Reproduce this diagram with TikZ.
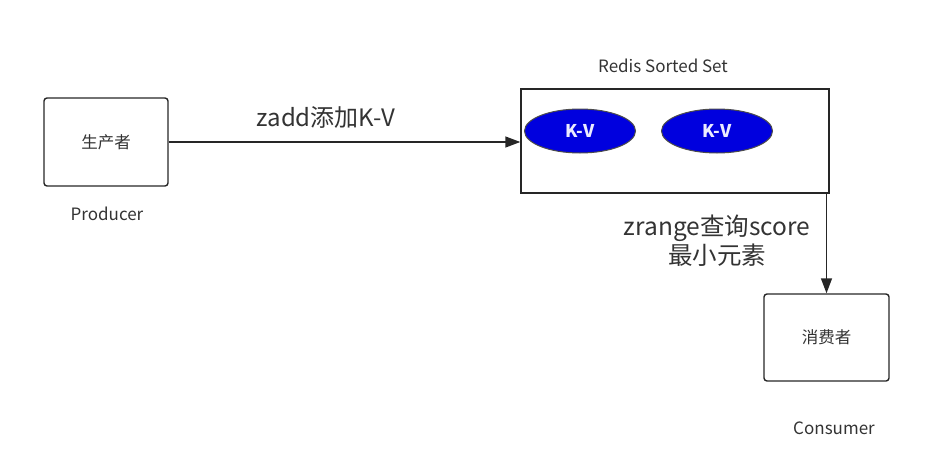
\documentclass[tikz,border=0pt]{standalone}
\usepackage{fontspec}
\setmainfont{Noto Sans CJK SC}
\usetikzlibrary{shapes.geometric, arrows.meta}
\definecolor{kvblue}{RGB}{0,0,222}
\definecolor{ink}{RGB}{51,51,51}
\begin{document}
\begin{tikzpicture}[x=1pt, y=-1pt]
	\tikzstyle{box} = [draw=black!85, line width=1.4pt, rounded corners=3pt, minimum width=124pt, minimum height=88pt, text=ink, font=\fontsize{16.5}{19}\selectfont]
	\tikzstyle{kv} = [ellipse, draw=black!70, line width=1pt, fill=kvblue, minimum width=111pt, minimum height=44pt, text=white!92!blue, font=\bfseries\fontsize{17.5}{20}\selectfont]
	\tikzstyle{caption} = [text=ink, font=\fontsize{17}{20}\selectfont]
	\tikzstyle{msg} = [text=ink, font=\fontsize{24}{28}\selectfont, align=center]
	\tikzstyle{flow} = [draw=black!85, line width=1.4pt, -{Triangle[length=15pt, width=11pt]}]
	\useasboundingbox (0,0) rectangle (950,471);
	\node[box] (prod) at (106, 142) {生产者};
	\node[caption] (prodname) at (107, 214) {Producer};
	\node[box, rounded corners=0pt, minimum width=308pt, minimum height=104pt] (redis) at (675, 141) {};
	\node[caption] (redisname) at (663, 66) {Redis Sorted Set};
	\node[kv] (kv1) at (580, 131) {K-V};
	\node[kv] (kv2) at (717, 131) {K-V};
	\node[box, minimum width=125pt, minimum height=87pt] (cons) at (826.5, 337.5) {消费者};
	\node[caption] (consname) at (834, 428) {Consumer};
	\node[msg] (zadd) at (326, 117) {zadd添加K-V};
	\node[msg, font=\fontsize{24.5}{29}\selectfont] (zrange) at (717, 241) {zrange查询score\\最小元素};
	\draw [flow] (prod.east) -- (prod.east -| redis.west);
	\draw [flow] (cons.north |- redis.south) -- (cons.north);
\end{tikzpicture}
\end{document}
